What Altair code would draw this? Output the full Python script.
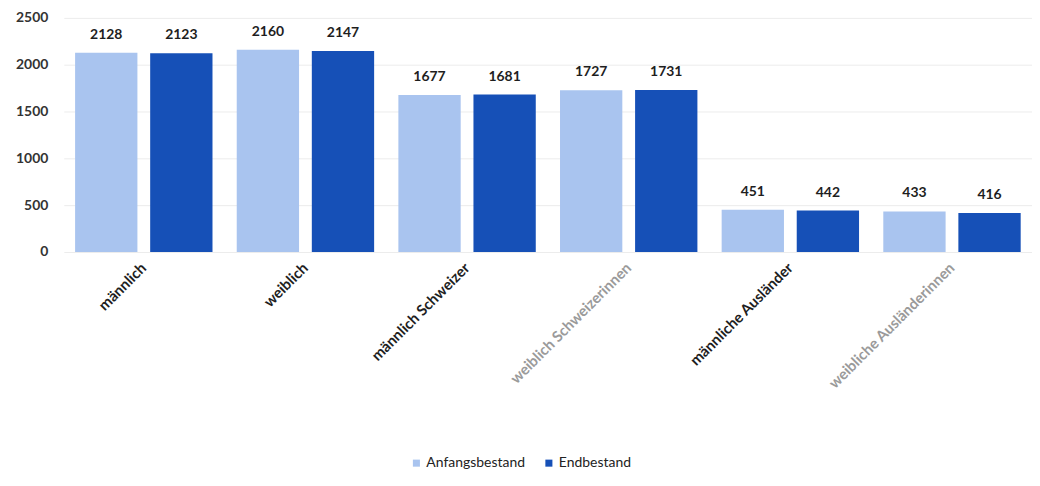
import altair as alt
import pandas as pd

categories = ["männlich", "weiblich", "männlich Schweizer", "weiblich Schweizerinnen",
              "männliche Ausländer", "weibliche Ausländerinnen"]
series = ["Anfangsbestand", "Endbestand"]
anfangsbestand = [2128, 2160, 1677, 1727, 451, 433]
endbestand = [2123, 2147, 1681, 1731, 442, 416]
y_ticks = [0, 500, 1000, 1500, 2000, 2500]
colors = ["#a9c4ef", "#1650b7"]

rows = []
for c, a, e in zip(categories, anfangsbestand, endbestand):
    rows.append({"Kategorie": c, "Serie": series[0], "Wert": a})
    rows.append({"Kategorie": c, "Serie": series[1], "Wert": e})
df = pd.DataFrame(rows)

FONT = "Lato"

x_enc = alt.X("Kategorie:N", sort=categories, title=None,
              scale=alt.Scale(paddingInner=0.15, paddingOuter=0.07),
              axis=alt.Axis(labelAngle=-45, labelAlign="right", labelBaseline="middle",
                            labelPadding=13, ticks=False, domain=False, labelFont=FONT,
                            labelFontSize=15, labelFontWeight="bold",
                            labelColor={"condition": {"test": "indexof(datum.value, 'weiblich Schweizerinnen') >= 0 || indexof(datum.value, 'Ausländerinnen') >= 0",
                                                      "value": "#9a9a9a"},
                                        "value": "#1e1e1e"},
                            labelLimit=300))
xoff = alt.XOffset("Serie:N", sort=series, scale=alt.Scale(paddingInner=0.17, paddingOuter=0))
y_enc = alt.Y("Wert:Q", title=None,
              scale=alt.Scale(domain=[0, 2500], nice=False),
              axis=alt.Axis(values=y_ticks, format="d", ticks=False, domain=False, labelPadding=16,
                            labelFont=FONT, labelFontSize=14, labelFontWeight="bold",
                            labelColor="#333333", gridColor="#ececec", gridWidth=1))

bars = alt.Chart(df).mark_bar().encode(
    x=x_enc, xOffset=xoff, y=y_enc,
    color=alt.Color("Serie:N", sort=series,
                    scale=alt.Scale(domain=series, range=colors),
                    legend=alt.Legend(title=None, orient="none", direction="horizontal",
                                      legendX=347, legendY=440, symbolType="square",
                                      symbolSize=50, labelFont=FONT, labelFontSize=14,
                                      labelOffset=3, labelColor="#222222", columnPadding=16,
                                      symbolOpacity=1)),
)

labels = alt.Chart(df).mark_text(baseline="bottom", dy=-11, font=FONT, fontSize=14,
                                 fontWeight="bold", color="#1e1e1e").encode(
    x=alt.X("Kategorie:N", sort=categories), xOffset=xoff,
    y=alt.Y("Wert:Q"), text=alt.Text("Wert:Q", format="d"),
)

chart = alt.layer(bars, labels).properties(
    width=972, height=235,
    autosize=alt.AutoSizeParams(type="none"),
    padding={"left": 56, "top": 9, "right": 0, "bottom": 226},
    background="white",
).configure_view(stroke=None)

chart.save("out.html", embed_options={"renderer": "svg", "actions": False})
